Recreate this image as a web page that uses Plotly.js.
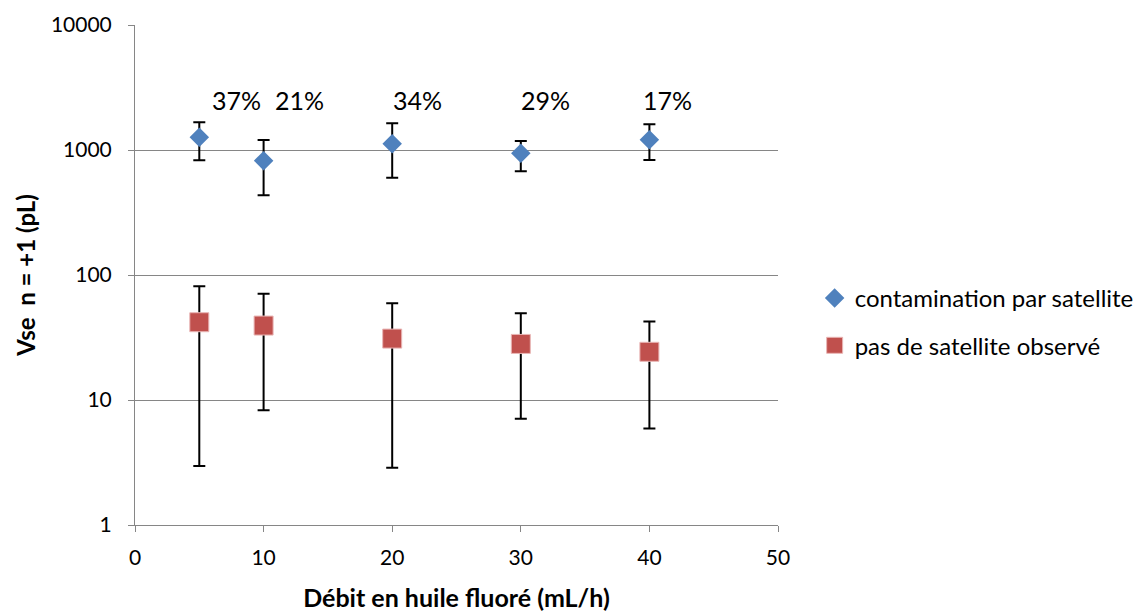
<!DOCTYPE html>
<html>
<head>
<meta charset="utf-8">
<script src="https://cdn.plot.ly/plotly-3.0.1.min.js"></script>
<style>html,body{margin:0;padding:0;background:#fff;}#chart{width:1148px;height:612px;}</style>
</head>
<body>
<div id="chart"></div>
<script>
const flowRates = [5, 10, 20, 30, 40];

const satMean  = [1264, 822, 1124, 940, 1210];
const satUpper = [1667, 1202, 1634, 1180, 1604];
const satLower = [828, 434, 601, 675, 832];

const noSatMean  = [41.9, 39.4, 31.0, 28.1, 24.3];
const noSatUpper = [81.4, 70.8, 59.5, 49.5, 42.5];
const noSatLower = [2.97, 8.28, 2.87, 7.07, 5.92];

const pctLabels = ["37%", "21%", "34%", "29%", "17%"];
const pctLabelX = [7.9, 12.8, 22.0, 31.9, 41.4];
const pctLabelY = 2512;

const seriesNames = ["contamination par satellite", "pas de satellite observé"];
const xTickVals = [0, 10, 20, 30, 40, 50];
const yTickVals = [1, 10, 100, 1000, 10000];

const FONT = "Lato, Open Sans, Noto Sans, sans-serif";

function diff(a, b) { return a.map((v, i) => v - b[i]); }

const traces = [
  {
    x: flowRates, y: satMean, name: seriesNames[0], type: 'scatter', mode: 'markers',
    legendgroup: 'a',
    marker: {symbol: 'diamond', size: 15, color: '#4F81BD'},
    error_y: {type: 'data', symmetric: false, array: diff(satUpper, satMean),
              arrayminus: diff(satMean, satLower), color: '#000', thickness: 2, width: 6}
  },
  {
    x: flowRates, y: noSatMean, name: seriesNames[1], type: 'scatter', mode: 'markers',
    legendgroup: 'b',
    marker: {symbol: 'square', size: 19, color: '#C0504D', line: {color: '#e9b6b5', width: 1}},
    error_y: {type: 'data', symmetric: false, array: diff(noSatUpper, noSatMean),
              arrayminus: diff(noSatMean, noSatLower), color: '#000', thickness: 2, width: 6}
  }
];

const annotations = pctLabels.map((t, i) => ({
  x: pctLabelX[i], y: Math.log10(pctLabelY), xref: 'x', yref: 'y', text: t,
  showarrow: false, font: {family: FONT, size: 25, color: '#000'}
}));

const layout = {
  width: 1148, height: 612,
  margin: {l: 135, r: 370, t: 25, b: 87, autoexpand: false},
  paper_bgcolor: '#fff', plot_bgcolor: '#fff',
  font: {family: FONT, size: 21, color: '#000'},
  showlegend: true,
  legend: {x: 1.057, y: 0.498, xanchor: 'left', yanchor: 'top',
           traceorder: 'grouped', tracegroupgap: 13,
           font: {family: FONT, size: 24, color: '#000'}, itemwidth: 30},
  xaxis: {
    range: [0, 50], tickvals: xTickVals, ticktext: xTickVals.map(String),
    showgrid: false, zeroline: false, showline: true, linecolor: '#868686', linewidth: 1,
    ticks: 'outside', ticklen: 6, tickcolor: '#868686', ticklabelstandoff: 8,
    tickfont: {family: FONT, size: 21},
    title: {text: '<b>Débit en huile fluoré (mL/h)</b>', font: {family: FONT, size: 25}, standoff: 22}
  },
  yaxis: {
    type: 'log', range: [0, 4], tickvals: yTickVals, ticktext: yTickVals.map(String),
    showgrid: true, gridcolor: '#868686', gridwidth: 1,
    zeroline: false, showline: true, linecolor: '#868686', linewidth: 1,
    ticks: 'outside', ticklen: 6, tickcolor: '#868686', ticklabelstandoff: 12,
    tickfont: {family: FONT, size: 21},
    title: {text: '<b>Vse  n = +1 (pL)</b>', font: {family: FONT, size: 24}, standoff: 8}
  },
  annotations: annotations
};

Plotly.newPlot('chart', traces, layout, {displayModeBar: false, staticPlot: true});
</script>
</body>
</html>
